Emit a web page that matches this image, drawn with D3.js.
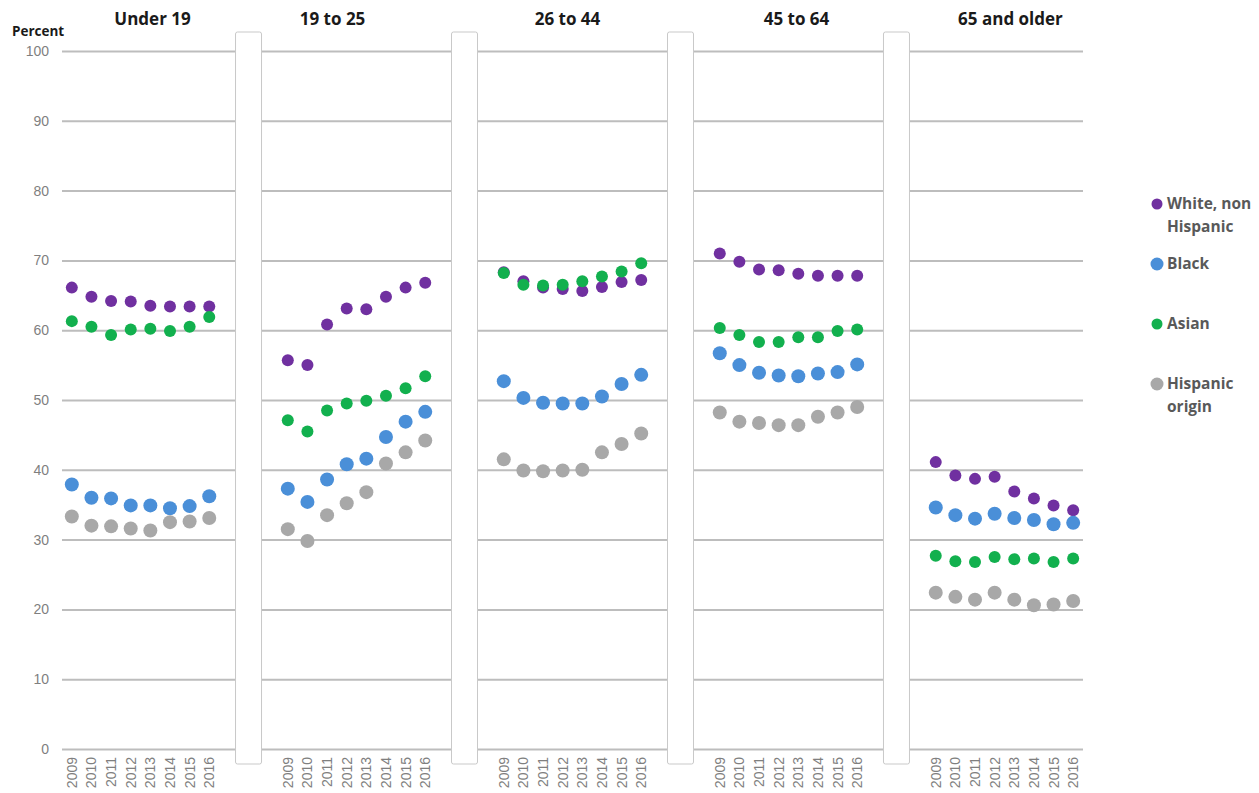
<!DOCTYPE html>
<html>
<head>
<meta charset="utf-8">
<script src="https://cdn.jsdelivr.net/npm/d3@7"></script>
<style>
  body { margin: 0; background: #fff; }
  svg { font-family: "Open Sans", sans-serif; }
</style>
</head>
<body>
<div id="chart"></div>
<script>
// age groups (one panel each) and years on the x axis
var ageGroups = ['Under 19', '19 to 25', '26 to 44', '45 to 64', '65 and older'];
var years = ['2009', '2010', '2011', '2012', '2013', '2014', '2015', '2016'];
var yTicks = [0, 10, 20, 30, 40, 50, 60, 70, 80, 90, 100];

var seriesNames = ['White, non Hispanic', 'Black', 'Asian', 'Hispanic origin'];
var legendLines = [['White, non', 'Hispanic'], ['Black'], ['Asian'], ['Hispanic', 'origin']];

// percent, one row per age group, 2009..2016
var white = [
  [66.1, 64.8, 64.2, 64.1, 63.5, 63.4, 63.4, 63.4],
  [55.7, 55.0, 60.8, 63.1, 63.0, 64.8, 66.1, 66.8],
  [68.3, 67.0, 66.1, 65.9, 65.6, 66.2, 66.9, 67.2],
  [71.0, 69.8, 68.7, 68.6, 68.1, 67.8, 67.8, 67.8],
  [41.1, 39.2, 38.7, 39.0, 36.9, 35.9, 34.9, 34.2]
];
var black = [
  [37.9, 36.0, 35.9, 34.9, 34.9, 34.5, 34.8, 36.2],
  [37.3, 35.4, 38.6, 40.8, 41.6, 44.7, 46.9, 48.3],
  [52.7, 50.3, 49.6, 49.5, 49.5, 50.5, 52.3, 53.6],
  [56.7, 55.0, 53.9, 53.5, 53.4, 53.8, 54.0, 55.1],
  [34.6, 33.5, 33.0, 33.7, 33.1, 32.8, 32.2, 32.4]
];
var asian = [
  [61.3, 60.5, 59.3, 60.1, 60.2, 59.9, 60.5, 61.9],
  [47.1, 45.5, 48.5, 49.5, 49.9, 50.6, 51.7, 53.4],
  [68.2, 66.5, 66.4, 66.5, 67.0, 67.7, 68.4, 69.6],
  [60.3, 59.3, 58.3, 58.3, 59.0, 59.0, 59.9, 60.1],
  [27.7, 26.9, 26.8, 27.5, 27.2, 27.3, 26.8, 27.3]
];
var hispanic = [
  [33.3, 32.0, 31.9, 31.6, 31.3, 32.5, 32.6, 33.1],
  [31.5, 29.8, 33.5, 35.2, 36.8, 40.9, 42.5, 44.2],
  [41.5, 39.9, 39.8, 39.9, 40.0, 42.5, 43.7, 45.2],
  [48.2, 46.9, 46.7, 46.4, 46.4, 47.6, 48.2, 49.0],
  [22.4, 21.8, 21.4, 22.4, 21.4, 20.6, 20.7, 21.2]
];

var seriesValues = [white, black, asian, hispanic];
var colors = ['#7030a0', '#4a8fd8', '#12b04e', '#a8a8a8'];
var radii = [6, 7, 6, 7];

var W = 1259, H = 793;
var plotLeft = 62, plotRight = 1083, plotTop = 51, plotBottom = 749;
var gapSlots = 3;
var titleShift = [12, -24, -5, 8, 6];

// one band per year per panel, plus empty bands between panels
var slots = [];
ageGroups.forEach(function (g, i) {
  years.forEach(function (yr) { slots.push(i + '|' + yr); });
  if (i < ageGroups.length - 1) {
    for (var k = 0; k < gapSlots; k++) slots.push('gap' + i + '-' + k);
  }
});

var x = d3.scaleBand()
    .domain(slots)
    .range([plotLeft, plotRight]);

var y = d3.scaleLinear()
    .domain([0, 100])
    .range([plotBottom, plotTop]);

var svg = d3.select('#chart').append('svg')
    .attr('width', W)
    .attr('height', H);

// y axis + gridlines
var yAxis = d3.axisLeft(y)
    .tickValues(yTicks)
    .tickSize(-(plotRight - plotLeft))
    .tickPadding(13);

var gy = svg.append('g')
    .attr('transform', 'translate(' + plotLeft + ',0)')
    .call(yAxis);
gy.select('.domain').remove();
gy.selectAll('line').attr('stroke', '#bdbdbd').attr('stroke-width', 2);
gy.selectAll('text')
    .attr('fill', '#7f7f7f')
    .style('font-size', '14px');

// x axis, years rotated
var xAxis = d3.axisBottom(x)
    .tickSize(0)
    .tickFormat(function (d) { return d.indexOf('gap') === 0 ? '' : d.split('|')[1]; });

var gx = svg.append('g')
    .attr('transform', 'translate(0,' + plotBottom + ')')
    .call(xAxis);
gx.select('.domain').remove();
gx.selectAll('text')
    .attr('transform', 'rotate(-90)')
    .attr('text-anchor', 'end')
    .attr('x', -8)
    .attr('y', 0)
    .attr('dy', '0.36em')
    .attr('fill', '#7f7f7f')
    .style('font-size', '14px');

// separators between panels
var seps = d3.range(ageGroups.length - 1);
svg.selectAll('rect.sep')
    .data(seps)
    .enter().append('rect')
      .attr('class', 'sep')
      .attr('x', function (i) { return x('gap' + i + '-1') + x.bandwidth() / 2 - 13; })
      .attr('y', 32)
      .attr('width', 26)
      .attr('height', 732)
      .attr('rx', 2)
      .attr('fill', '#fff')
      .attr('stroke', '#c9c9c9')
      .attr('stroke-width', 1);

// panel titles
svg.selectAll('text.title')
    .data(ageGroups)
    .enter().append('text')
      .attr('class', 'title')
      .attr('x', function (g, i) {
        return (x(i + '|' + years[0]) + x(i + '|' + years[years.length - 1]) + x.bandwidth()) / 2 + titleShift[i];
      })
      .attr('y', 25)
      .attr('text-anchor', 'middle')
      .attr('font-weight', 'bold')
      .attr('fill', '#1a1a1a')
      .style('font-size', '17px')
      .text(function (g) { return g; });

svg.append('text')
    .attr('x', 12)
    .attr('y', 36)
    .attr('font-weight', 'bold')
    .attr('fill', '#1a1a1a')
    .style('font-size', '13.5px')
    .text('Percent');

// dots
seriesValues.forEach(function (vals, s) {
  var pts = [];
  vals.forEach(function (row, i) {
    row.forEach(function (v, j) { pts.push({ key: i + '|' + years[j], v: v }); });
  });
  svg.append('g').selectAll('circle')
      .data(pts)
      .enter().append('circle')
        .attr('cx', function (d) { return x(d.key) + x.bandwidth() / 2; })
        .attr('cy', function (d) { return y(d.v); })
        .attr('r', radii[s])
        .attr('fill', colors[s]);
});

// legend
var legend = svg.append('g').attr('transform', 'translate(1157,204)');
var item = legend.selectAll('g')
    .data(seriesNames)
    .enter().append('g')
      .attr('transform', function (d, i) { return 'translate(0,' + (i * 60) + ')'; });
item.append('circle')
    .attr('r', function (d, i) { return radii[i] - 0.5; })
    .attr('fill', function (d, i) { return colors[i]; });
item.each(function (d, i) {
  var t = d3.select(this).append('text')
      .attr('x', 10)
      .attr('y', 0)
      .attr('font-weight', 'bold')
      .attr('fill', '#595959')
      .style('font-size', '15.5px');
  legendLines[i].forEach(function (line, k) {
    t.append('tspan')
        .attr('x', 10)
        .attr('dy', k === 0 ? '0.35em' : '23px')
        .text(line);
  });
});
</script>
</body>
</html>
